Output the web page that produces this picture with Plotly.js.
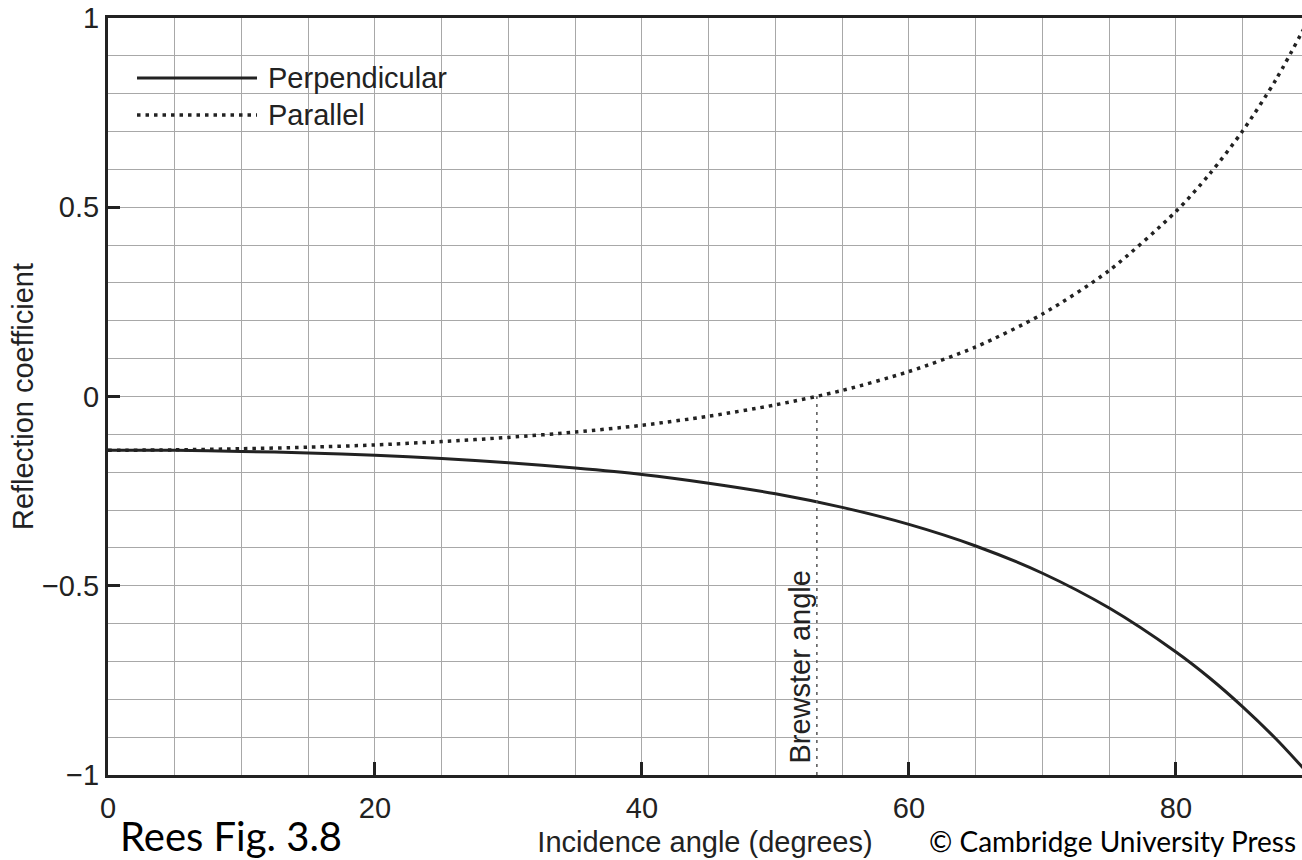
<!DOCTYPE html>
<html>
<head>
<meta charset="utf-8">
<script src="https://cdn.plot.ly/plotly-3.0.1.min.js"></script>
<style>
html,body{margin:0;padding:0;background:#fff;}
#chart{width:1302px;height:860px;}
</style>
</head>
<body>
<div id="chart"></div>
<script>
// Incidence angle (degrees)
const angles = [0, 5, 10, 15, 20, 25, 30, 35, 40, 45, 50, 55, 60, 65, 70, 75, 80, 82.5, 85, 87.5, 90];
// Reflection coefficient, perpendicular polarisation
const perpendicular = [-0.142, -0.142, -0.145, -0.149, -0.155, -0.164, -0.175, -0.189, -0.206, -0.229, -0.257, -0.293, -0.338, -0.395, -0.467, -0.559, -0.675, -0.743, -0.820, -0.905, -1.0];
// Reflection coefficient, parallel polarisation
const parallel = [-0.142, -0.141, -0.138, -0.134, -0.128, -0.119, -0.108, -0.094, -0.076, -0.052, -0.022, 0.016, 0.066, 0.131, 0.218, 0.333, 0.489, 0.587, 0.702, 0.838, 1.0];
// Brewster angle marker
const brewsterX = [53.1, 53.1];
const brewsterY = [-1, 0];
const brewsterLabel = "Brewster angle";
const xTicks = [0, 20, 40, 60, 80];
const yTicks = [-1, -0.5, 0, 0.5, 1];
const yTickText = ["\u22121", "\u22120.5", "0", "0.5", "1"];

const FONT = "Liberation Sans, Arial, Helvetica, sans-serif";
const NOTE_FONT = "Lato, Carlito, Calibri, sans-serif";
const INK = "#222";
const FS = 29;

const traces = [
  {x: angles, y: perpendicular, name: "Perpendicular", mode: "lines",
   line: {color: INK, width: 3, shape: "spline", smoothing: 0.8}},
  {x: angles, y: parallel, name: "Parallel", mode: "lines",
   line: {color: INK, width: 3.5, dash: "3.5px,5px", shape: "spline", smoothing: 0.8}},
  {x: brewsterX, y: brewsterY, name: "Brewster", mode: "lines",
   line: {color: "#555", width: 1.5, dash: "3px,5px"}}
];

const layout = {
  width: 1302, height: 860,
  margin: {l: 108, r: 0, t: 18, b: 85},
  paper_bgcolor: "#fff", plot_bgcolor: "#fff",
  showlegend: false,
  font: {family: FONT, size: FS, color: INK},
  xaxis: {
    range: [0, 89.44], tickvals: xTicks, ticktext: xTicks.map(String),
    ticks: "inside", ticklen: 13, tickwidth: 3, tickcolor: INK,
    showline: true, linewidth: 3, linecolor: INK, mirror: true,
    showgrid: true, gridcolor: "#a8a8a8", gridwidth: 1,
    minor: {dtick: 5, showgrid: true, gridcolor: "#a8a8a8", gridwidth: 1, ticks: ""},
    zeroline: false, ticklabelstandoff: 5,
    tickfont: {size: FS, color: INK, family: FONT},
    title: {text: "Incidence angle (degrees)", font: {size: FS, color: INK, family: FONT}, standoff: 9}
  },
  yaxis: {
    range: [-1, 1], tickvals: yTicks, ticktext: yTickText,
    ticks: "inside", ticklen: 12, tickwidth: 3, tickcolor: INK,
    showline: true, linewidth: 3, linecolor: INK, mirror: false,
    showgrid: true, gridcolor: "#a8a8a8", gridwidth: 1,
    minor: {dtick: 0.1, showgrid: true, gridcolor: "#a8a8a8", gridwidth: 1, ticks: ""},
    zeroline: false, ticklabelstandoff: 0,
    tickfont: {size: FS, color: INK, family: FONT},
    title: {text: "Reflection coefficient", font: {size: FS, color: INK, family: FONT}, standoff: 0}
  },
  shapes: [
    {type: "line", xref: "paper", yref: "paper", x0: 0.0243, x1: 0.1248, y0: 0.9207, y1: 0.9207,
     line: {color: INK, width: 3}},
    {type: "line", xref: "paper", yref: "paper", x0: 0.0243, x1: 0.1248, y0: 0.8719, y1: 0.8719,
     line: {color: INK, width: 3.5, dash: "3.5px,5px"}}
  ],
  annotations: [
    {xref: "paper", yref: "paper", x: 0.1325, y: 0.9207, xanchor: "left", yanchor: "middle",
     text: "Perpendicular", showarrow: false, font: {size: FS, color: INK, family: FONT}},
    {xref: "paper", yref: "paper", x: 0.1325, y: 0.8719, xanchor: "left", yanchor: "middle",
     text: "Parallel", showarrow: false, font: {size: FS, color: INK, family: FONT}},
    {xref: "x", yref: "y", x: 51.8, y: -0.7147, xanchor: "center", yanchor: "middle", textangle: -90,
     text: brewsterLabel, showarrow: false, font: {size: FS, color: INK, family: FONT}},
    {xref: "paper", yref: "paper", x: 0.008, y: -0.0462, xanchor: "left", yanchor: "top",
     text: "Rees Fig. 3.8", showarrow: false, font: {size: 40, color: "#000", family: NOTE_FONT}},
    {xref: "paper", yref: "paper", x: 0.9966, y: -0.062, xanchor: "right", yanchor: "top",
     text: "\u00a9 Cambridge University Press", showarrow: false, font: {size: 28, color: "#000", family: NOTE_FONT}}
  ]
};

Plotly.newPlot("chart", traces, layout, {displayModeBar: false, staticPlot: true});
</script>
</body>
</html>
